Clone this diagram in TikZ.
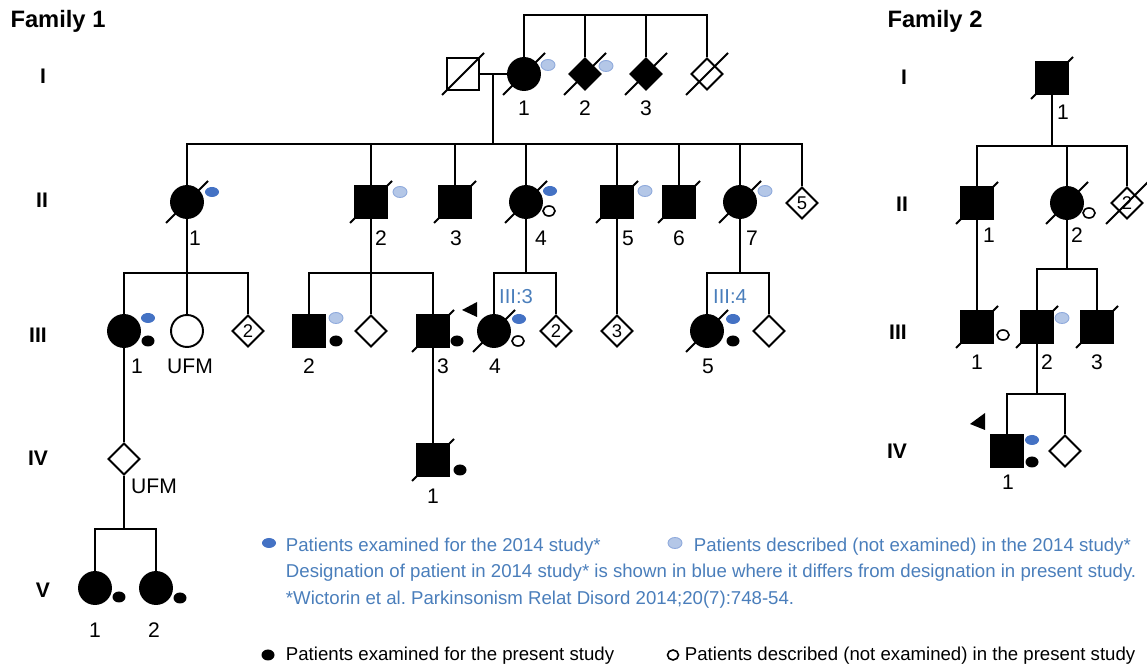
\documentclass[tikz,border=0pt]{standalone}
\usepackage{fontspec}
\setmainfont{Liberation Sans}
\usetikzlibrary{positioning}
\usetikzlibrary{shapes}
\usetikzlibrary{calc}

\definecolor{exblue}{HTML}{4472C4}
\definecolor{descblue}{HTML}{B4C7E7}
\definecolor{descrim}{HTML}{8FAADC}
\definecolor{noteblue}{HTML}{4A7EBB}

\tikzset{
  person/.style={draw, line width=1.1pt, inner sep=0pt, minimum size=0.64cm, font=\fontsize{10.5}{11}\selectfont},
  male/.style={person, rectangle},
  female/.style={person, circle},
  sexless/.style={person, diamond},
  affected/.style={fill=black},
  slash/.style={draw, line width=1.1pt},
  deceased/.style={append after command={([shift={(-21,21)}]\tikzlastnode.center) edge[slash] ([shift={(21,-21)}]\tikzlastnode.center)}},
  line/.style={draw, line width=1.1pt},
  lbl/.style={inner sep=0pt, font=\fontsize{12}{14}\selectfont},
  gen/.style={inner sep=0pt, font=\fontsize{12}{14}\selectfont\bfseries},
  famtitle/.style={inner sep=0pt, font=\fontsize{13.5}{16}\selectfont\bfseries},
  oldname/.style={inner sep=0pt, text=noteblue, font=\fontsize{11.5}{14}\selectfont},
  note/.style={inner sep=0pt, anchor=base west, font=\fontsize{10.6}{13}\selectfont\frenchspacing},
  ex14/.style={fill=exblue},
  desc14/.style={fill=descblue, draw=descrim, line width=0.5pt},
  exnow/.style={fill=black},
  descnow/.style={draw=black, line width=0.9pt, fill=white}
}

\begin{document}
\begin{tikzpicture}[x=0.02cm, y=-0.02cm, line width=1.1pt]
\useasboundingbox (0,0) rectangle (1147,668);

%titles
\node[famtitle] (fam1) at (58,21) {Family 1};
\node[famtitle] (fam2) at (935,21) {Family 2};
%generations
\node[gen] (g1a) at (43,76) {I};
\node[gen] (g2a) at (42,200) {II};
\node[gen] (g3a) at (38,335) {III};
\node[gen] (g4a) at (38,458) {IV};
\node[gen] (g5a) at (43,590) {V};
\node[gen] (g1b) at (904,77) {I};
\node[gen] (g2b) at (902,204) {II};
\node[gen] (g3b) at (898,332) {III};
\node[gen] (g4b) at (897,451) {IV};

%family 1, generation I
\node[male, deceased] (f1Ia) at (463,74) {};
\node[female, affected, deceased] (f1I1) at (524,74) {};
\node[sexless, affected, deceased] (f1I2) at (585,74) {};
\node[sexless, affected, deceased] (f1I3) at (646,74) {};
\node[sexless, deceased] (f1I4) at (707,74) {};
\node[lbl] (f1I1l) at (524,108) {1};
\node[lbl] (f1I2l) at (585,108) {2};
\node[lbl] (f1I3l) at (646,108) {3};
\coordinate (m1) at (493,74);
\coordinate (s1) at (615,15);
\draw[line] (f1Ia) -- (f1I1);
\draw[line] (f1I1) |- (s1) -| (f1I4);
\draw[line] (f1I2) -- (f1I2 |- s1);
\draw[line] (f1I3) -- (f1I3 |- s1);

%family 1, generation II
\node[female, affected, deceased] (f1II1) at (187,202) {};
\node[male, affected, deceased] (f1II2) at (371,202) {};
\node[male, affected, deceased] (f1II3) at (455,202) {};
\node[female, affected, deceased] (f1II4) at (526,202) {};
\node[male, affected, deceased] (f1II5) at (617,202) {};
\node[male, affected, deceased] (f1II6) at (679,202) {};
\node[female, affected, deceased] (f1II7) at (740,202) {};
\node[sexless] (f1II8) at (802,203) {5};
\node[lbl] (f1II1l) at (195,238) {1};
\node[lbl] (f1II2l) at (381,238) {2};
\node[lbl] (f1II3l) at (456,238) {3};
\node[lbl] (f1II4l) at (541,238) {4};
\node[lbl] (f1II5l) at (628,238) {5};
\node[lbl] (f1II6l) at (679,238) {6};
\node[lbl] (f1II7l) at (752,238) {7};
\coordinate (s2) at (493,144);
\draw[line] (m1) -- (s2);
\foreach \n in {1,...,8} \draw[line] (f1II\n) |- (s2);

%family 1, generation III
\node[female, affected] (f1III1) at (124,331) {};
\node[female] (f1III2) at (187,331) {};
\node[sexless] (f1III3) at (248,331) {2};
\node[male, affected] (f1III4) at (309,331) {};
\node[sexless] (f1III5) at (371,331) {};
\node[male, affected, deceased] (f1III6) at (433,331) {};
\node[female, affected, deceased] (f1III7) at (494,331) {};
\node[sexless] (f1III8) at (556,331) {2};
\node[sexless] (f1III9) at (617,331) {3};
\node[female, affected, deceased] (f1III10) at (707,331) {};
\node[sexless] (f1III11) at (769,331) {};
\node[lbl] (f1III1l) at (137,366) {1};
\node[lbl] (f1III2l) at (190,366) {UFM};
\node[lbl] (f1III4l) at (309,366) {2};
\node[lbl] (f1III6l) at (443,366) {3};
\node[lbl] (f1III7l) at (495,366) {4};
\node[lbl] (f1III10l) at (708,366) {5};
\node[oldname] (f1III7o) at (516,297) {III:3};
\node[oldname] (f1III10o) at (730,297) {III:4};
\coordinate (s3a) at (187,273);
\coordinate (s3b) at (371,273);
\coordinate (s3c) at (526,273);
\coordinate (s3d) at (740,273);
\draw[line] (f1II1) -- (f1III2);
\draw[line] (f1III1) |- (s3a) -| (f1III3);
\draw[line] (f1II2) -- (f1III5);
\draw[line] (f1III4) |- (s3b) -| (f1III6);
\draw[line] (f1II4) -- (s3c);
\draw[line] (f1III7) |- (s3c) -| (f1III8);
\draw[line] (f1II5) -- (f1III9);
\draw[line] (f1II7) -- (s3d);
\draw[line] (f1III10) |- (s3d) -| (f1III11);
%proband
\fill (462,310) -- (477,302) -- (477,317) -- cycle;

%family 1, generations IV and V
\node[sexless] (f1IV1) at (124,459) {};
\node[male, affected, deceased] (f1IV2) at (433,460) {};
\node[lbl] (f1IV1l) at (154,486) {UFM};
\node[lbl] (f1IV2l) at (433,496) {1};
\node[female, affected] (f1V1) at (95,588) {};
\node[female, affected] (f1V2) at (156,588) {};
\node[lbl] (f1V1l) at (95,630) {1};
\node[lbl] (f1V2l) at (154,630) {2};
\coordinate (s5) at (124,529);
\draw[line] (f1III1) -- (f1IV1);
\draw[line] (f1III6) -- (f1IV2);
\draw[line] (f1IV1) -- (s5);
\draw[line] (f1V1) |- (s5) -| (f1V2);

%family 2
\node[male, affected, deceased] (f2I1) at (1052,78) {};
\node[male, affected, deceased] (f2II1) at (977,203) {};
\node[female, affected, deceased] (f2II2) at (1067,203) {};
\node[sexless, deceased] (f2II3) at (1127,203) {2};
\node[male, affected, deceased] (f2III1) at (977,327) {};
\node[male, affected, deceased] (f2III2) at (1037,327) {};
\node[male, affected, deceased] (f2III3) at (1097,327) {};
\node[male, affected] (f2IV1) at (1007,451) {};
\node[sexless] (f2IV2) at (1065,451) {};
\node[lbl] (f2I1l) at (1063,112) {1};
\node[lbl] (f2II1l) at (989,235) {1};
\node[lbl] (f2II2l) at (1077,235) {2};
\node[lbl] (f2III1l) at (977,362) {1};
\node[lbl] (f2III2l) at (1047,362) {2};
\node[lbl] (f2III3l) at (1097,362) {3};
\node[lbl] (f2IV1l) at (1008,482) {1};
\coordinate (t2) at (1052,146);
\coordinate (t3) at (1067,269);
\coordinate (t4) at (1037,394);
\draw[line] (f2I1) -- (t2);
\foreach \n in {1,2,3} \draw[line] (f2II\n) |- (t2);
\draw[line] (f2II1) -- (f2III1);
\draw[line] (f2II2) -- (t3);
\draw[line] (f2III2) |- (t3) -| (f2III3);
\draw[line] (f2III2) -- (t4);
\draw[line] (f2IV1) |- (t4) -| (f2IV2);
%proband
\fill (970,424) -- (985,413) -- (985,430) -- cycle;

%marks, 2014 study
\fill[ex14] (212,192) ellipse (0.14cm and 0.1cm);
\fill[ex14] (550,191) ellipse (0.14cm and 0.1cm);
\fill[ex14] (148,318) ellipse (0.14cm and 0.1cm);
\fill[ex14] (519,319) ellipse (0.14cm and 0.1cm);
\fill[ex14] (733,319) ellipse (0.14cm and 0.1cm);
\fill[ex14] (1032,440) ellipse (0.14cm and 0.1cm);
\filldraw[desc14] (548,65) ellipse (0.14cm and 0.11cm);
\filldraw[desc14] (606,66) ellipse (0.14cm and 0.11cm);
\filldraw[desc14] (400,192) ellipse (0.14cm and 0.11cm);
\filldraw[desc14] (645,191) ellipse (0.14cm and 0.11cm);
\filldraw[desc14] (765,191) ellipse (0.14cm and 0.11cm);
\filldraw[desc14] (336,318) ellipse (0.14cm and 0.11cm);
\filldraw[desc14] (1062,318) ellipse (0.14cm and 0.11cm);
%marks, present study
\fill[exnow] (148,341) ellipse (0.13cm and 0.11cm);
\fill[exnow] (336,341) ellipse (0.13cm and 0.11cm);
\fill[exnow] (457,341) ellipse (0.13cm and 0.11cm);
\fill[exnow] (733,341) ellipse (0.13cm and 0.11cm);
\fill[exnow] (460,470) ellipse (0.13cm and 0.11cm);
\fill[exnow] (119,597) ellipse (0.13cm and 0.11cm);
\fill[exnow] (180,598) ellipse (0.13cm and 0.11cm);
\fill[exnow] (1032,462) ellipse (0.13cm and 0.11cm);
\filldraw[descnow] (549,211) ellipse (0.12cm and 0.1cm);
\filldraw[descnow] (518,341) ellipse (0.12cm and 0.1cm);
\filldraw[descnow] (1089,213) ellipse (0.12cm and 0.1cm);
\filldraw[descnow] (1003,335) ellipse (0.12cm and 0.1cm);

%legend
\fill[ex14] (269,543) ellipse (0.14cm and 0.1cm);
\node[note, text=noteblue] (n1) at (285,552) {Patients examined for the 2014 study*};
\filldraw[desc14] (675,543) ellipse (0.14cm and 0.11cm);
\node[note, text=noteblue] (n2) at (693,552) {Patients described (not examined) in the 2014 study*};
\node[note, text=noteblue] (n3) at (285,578) {Designation of patient in 2014 study* is shown in blue where it differs from designation in present study.};
\node[note, text=noteblue] (n4) at (285,605) {*Wictorin et al. Parkinsonism Relat Disord 2014;20(7):748-54.};
\fill[exnow] (268,655) ellipse (0.13cm and 0.11cm);
\node[note] (n5) at (285,661) {Patients examined for the present study};
\filldraw[descnow] (673,655) ellipse (0.11cm and 0.1cm);
\node[note] (n6) at (684,661) {Patients described (not examined) in the present study};
\end{tikzpicture}
\end{document}
